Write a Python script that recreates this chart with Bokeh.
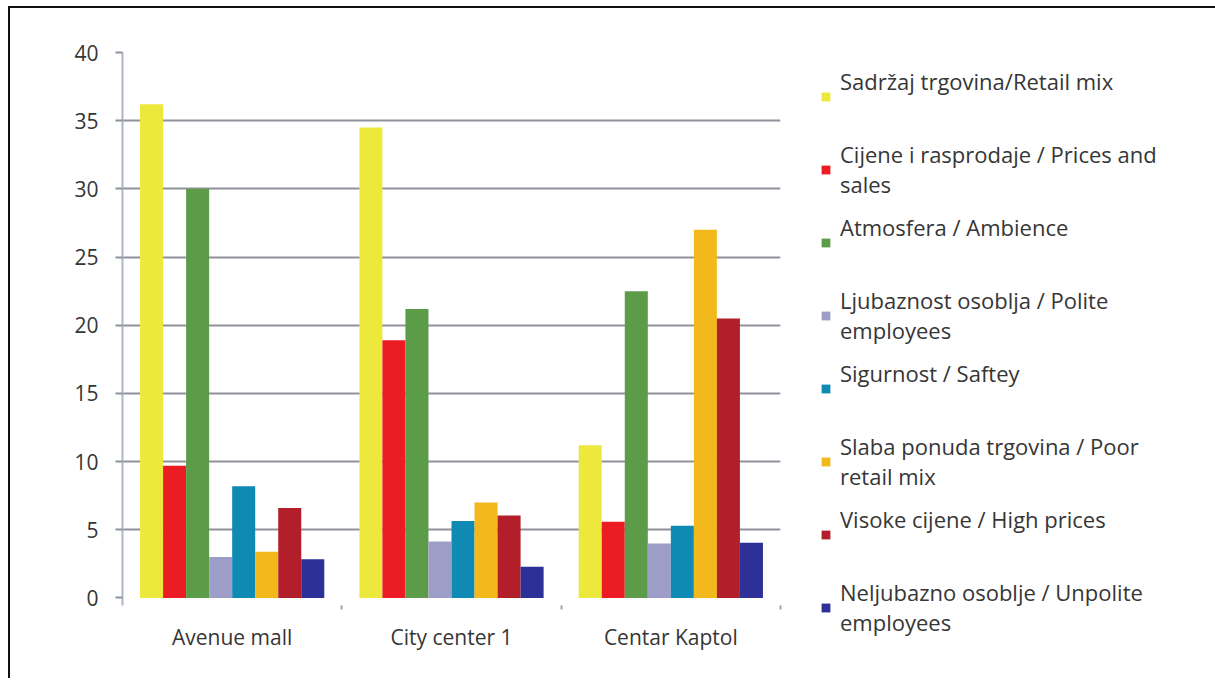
from bokeh.plotting import figure
from bokeh.models import Range1d, FixedTicker, ColumnDataSource, Legend, LegendItem
from bokeh.transform import dodge
from bokeh.embed import file_html
from bokeh.resources import INLINE

categories = ["Avenue mall", "City center 1", "Centar Kaptol"]

series_labels = [
    "Sadržaj trgovina/Retail mix",
    "Cijene i rasprodaje / Prices and\nsales",
    "Atmosfera / Ambience",
    "Ljubaznost osoblja / Polite\nemployees",
    "Sigurnost / Saftey",
    "Slaba ponuda trgovina / Poor\nretail mix",
    "Visoke cijene / High prices",
    "Neljubazno osoblje / Unpolite\nemployees",
]

retail_mix = [36.2, 34.5, 11.2]
prices_sales = [9.7, 18.9, 5.6]
ambience = [30.0, 21.2, 22.5]
polite = [3.0, 4.15, 4.0]
safety = [8.2, 5.65, 5.3]
poor_retail = [3.4, 7.0, 27.0]
high_prices = [6.6, 6.05, 20.5]
unpolite = [2.85, 2.3, 4.05]

series_values = [retail_mix, prices_sales, ambience, polite, safety,
                 poor_retail, high_prices, unpolite]
series_keys = ["s0", "s1", "s2", "s3", "s4", "s5", "s6", "s7"]
colors = ["#EDE83C", "#EC1C24", "#5C9C48", "#9C9EC8", "#0F8AB2",
          "#F2B81C", "#B21F2A", "#2C3097"]

y_ticks = [0, 5, 10, 15, 20, 25, 30, 35, 40]

centers = [i + 0.5 for i in range(len(categories))]
boundaries = [i + 1 for i in range(len(categories))]

data = {"xc": centers}
for k, v in zip(series_keys, series_values):
    data[k] = v
source = ColumnDataSource(data)

TEXT = "#363636"
FONT = "Open Sans"
AXIS_FS = "21px"
LEG_FS = "22px"

p = figure(
    x_range=Range1d(0, len(categories)),
    y_range=Range1d(-0.55, 40),
    frame_width=658, frame_height=553,
    output_backend="svg", toolbar_location=None,
    min_border_left=112, min_border_right=40,
    min_border_top=44, min_border_bottom=73,
)
p.margin = (6, 0, 0, 8)
p.styles = {"border-left": "2px solid #111111", "border-top": "2px solid #111111"}
p.outline_line_color = None
p.background_fill_color = "white"
p.border_fill_color = "white"

bar_w = 0.105
renderers = []
for i, (k, c) in enumerate(zip(series_keys, colors)):
    off = -0.3675 + bar_w * i
    r = p.vbar(x=dodge("xc", off), top=k, width=bar_w,
               bottom=0, source=source, fill_color=c, line_color=None)
    renderers.append(r)

yax = p.yaxis[0]
yax.ticker = FixedTicker(ticks=y_ticks)
yax.axis_line_color = "#AEB5C6"
yax.axis_line_width = 2
yax.major_tick_line_color = "#8E929B"
yax.major_tick_line_width = 2
yax.major_tick_out = 7
yax.major_tick_in = 0
yax.minor_tick_line_color = None
yax.major_label_standoff = 17
yax.major_label_text_font = FONT
yax.major_label_text_font_size = AXIS_FS
yax.major_label_text_color = TEXT

p.ygrid.ticker = FixedTicker(ticks=y_ticks[1:])
p.ygrid.grid_line_color = "#8E929B"
p.ygrid.grid_line_width = 2
p.xgrid.grid_line_color = None

xax = p.xaxis[0]
xax.ticker = FixedTicker(ticks=centers, minor_ticks=boundaries)
xax.major_label_overrides = {c: name for c, name in zip(centers, categories)}
xax.axis_line_color = None
xax.major_tick_line_color = None
xax.major_tick_out = 0
xax.major_tick_in = 0
xax.minor_tick_line_color = "#A0A4AC"
xax.minor_tick_line_width = 2
xax.minor_tick_out = 4
xax.minor_tick_in = 0
xax.major_label_standoff = 13
xax.major_label_text_font = FONT
xax.major_label_text_font_size = AXIS_FS
xax.major_label_text_color = TEXT

# every entry laid out as two lines so that all entries share one pitch
legend_text = [lab if "\n" in lab else lab + "\n " for lab in series_labels]
legend = Legend(
    items=[LegendItem(label=t, renderers=[r]) for t, r in zip(legend_text, renderers)],
    location=(40, -32), orientation="vertical",
    padding=0, margin=0, spacing=13, label_height=60,
    glyph_width=11, glyph_height=11, label_standoff=9,
    border_line_color=None, background_fill_alpha=0,
    label_text_font=FONT, label_text_font_size=LEG_FS,
    label_text_color=TEXT, label_text_line_height=1.32,
)
p.add_layout(legend, "right")

open("out.html", "w").write(file_html(p, INLINE))
